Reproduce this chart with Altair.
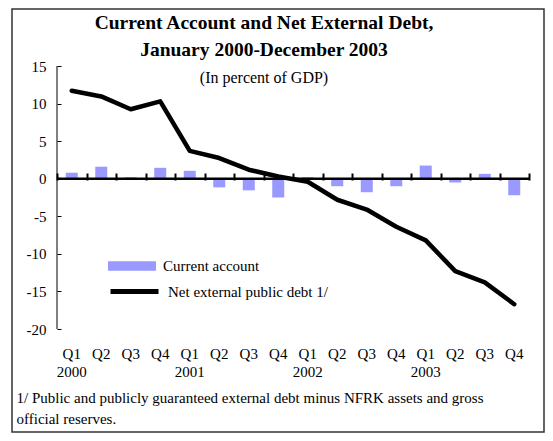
import altair as alt
import pandas as pd

quarters = ["Q1", "Q2", "Q3", "Q4"] * 4
years = ["2000"] * 4 + ["2001"] * 4 + ["2002"] * 4 + ["2003"] * 4
current_account = [0.8, 1.6, 0.2, 1.45, 1.05, -1.15, -1.55, -2.5,
                   0.2, -1.0, -1.8, -1.0, 1.75, -0.5, 0.65, -2.2]
net_debt = [11.7, 10.95, 9.25, 10.3, 3.7, 2.75, 1.2, 0.3,
            -0.4, -2.8, -4.1, -6.4, -8.2, -12.3, -13.8, -16.7]
series = ["Current account", "Net external public debt 1/"]
y_ticks = [-20, -15, -10, -5, 0, 5, 10, 15]
title_lines = ["Current Account and Net External Debt,", "January 2000-December 2003"]
subtitle = "(In percent of GDP)"
footnote = ["1/ Public and publicly guaranteed external debt minus NFRK assets and gross",
            "official reserves."]

FONT = "Times New Roman, Liberation Serif, serif"
W, H = 472, 263

df = pd.DataFrame({
    "period": [f"{y} {q}" for y, q in zip(years, quarters)],
    "ca": current_account,
    "debt": net_debt,
    "s1": series[0],
    "s2": series[1],
})

yscale = alt.Scale(domain=[-20, 15], nice=False, zero=False)
yaxis = alt.Axis(values=y_ticks, domain=False, grid=False, ticks=True, tickSize=4,
                 tickWidth=1, tickColor="black", offset=-4, labelPadding=11,
                 labelExpr="datum.value + ''",
                 labelFont=FONT, labelFontSize=15, labelColor="black", title=None)
xscale = alt.Scale(paddingInner=0, paddingOuter=0)

label_axis = alt.Axis(
    orient="bottom", domain=False, ticks=False, grid=False, labelAngle=0,
    labelPadding=17, labelFont=FONT, labelFontSize=15, labelColor="black",
    labelLineHeight=18, labelBaseline="top", labelOverlap=False, labelBound=False,
    labelExpr="indexof(datum.value, 'Q1') >= 0 ? [substring(datum.value, 5), substring(datum.value, 0, 4)] : substring(datum.value, 5)",
    title=footnote, titleFont=FONT, titleFontSize=15, titleFontWeight="normal",
    titleColor="black", titleAlign="left", titleAnchor="start", titleBaseline="alphabetic",
    titleX=-41, titleY=73, titleLineHeight=21,
)
tick_axis = alt.Axis(
    orient="top", domain=False, labels=False, grid=False, ticks=True,
    tickBand="extent", tickSize=7, tickWidth=2, tickColor="black",
    offset=-(H * 15 / 35 + 1.3), title=None,
)

border = alt.Chart(pd.DataFrame({"a": [0]})).mark_rect(
    fill="transparent", stroke="#333333", strokeWidth=1.5
).encode(x=alt.value(-45), x2=alt.value(487), y=alt.value(-57), y2=alt.value(366))

bars = alt.Chart(df).mark_bar(size=12).encode(
    x=alt.X("period:N", sort=None, scale=xscale, axis=label_axis),
    y=alt.Y("ca:Q", scale=yscale, axis=yaxis),
    fill=alt.Fill("s1:N", scale=alt.Scale(domain=[series[0]], range=["#9999ff"]),
                  legend=alt.Legend(orient="none", legendX=51, legendY=176, title=None,
                                    symbolType="M-1,-0.2H1V0.2H-1Z", symbolSize=2304,
                                    symbolStrokeWidth=0, labelFont=FONT, labelFontSize=15,
                                    labelColor="black", padding=0, labelOffset=7)),
)

zero = alt.Chart(pd.DataFrame({"z": [0]})).mark_rule(color="black", strokeWidth=2.5).encode(
    y=alt.Y("z:Q", scale=yscale, axis=yaxis)
)

yline = alt.Chart(pd.DataFrame({"a": [0]})).mark_rule(color="black", strokeWidth=1).encode(
    x=alt.value(0), y=alt.value(0), y2=alt.value(H)
)

line = alt.Chart(df).mark_line(strokeWidth=4.5, strokeCap="round", strokeJoin="round").encode(
    x=alt.X("period:N", sort=None, scale=xscale, axis=tick_axis),
    y=alt.Y("debt:Q", scale=yscale, axis=yaxis),
    stroke=alt.Stroke("s2:N", scale=alt.Scale(domain=[series[1]], range=["black"]),
                      legend=alt.Legend(orient="none", legendX=51, legendY=199, title=None,
                                        symbolType="stroke", symbolSize=2304,
                                        symbolStrokeWidth=5, labelFont=FONT, labelFontSize=15,
                                        labelColor="black", padding=0, labelOffset=7)),
)

chart = alt.layer(border, bars, zero, yline, line).resolve_axis(x="independent").resolve_scale(
    fill="independent", stroke="independent"
).properties(
    width=W, height=H,
    autosize=alt.AutoSizeParams(type="none"),
    padding={"left": 49, "top": 58, "right": 16, "bottom": 104},
    title=alt.TitleParams(
        text=title_lines, subtitle=subtitle, anchor="middle", dx=-29, offset=-79,
        font=FONT, fontSize=19.5, fontWeight="bold", color="black", lineHeight=27,
        subtitleFont=FONT, subtitleFontSize=16, subtitleColor="black", subtitlePadding=10,
    ),
).configure_view(stroke=None)

chart.save("out.html", embed_options={"renderer": "svg", "actions": False})
